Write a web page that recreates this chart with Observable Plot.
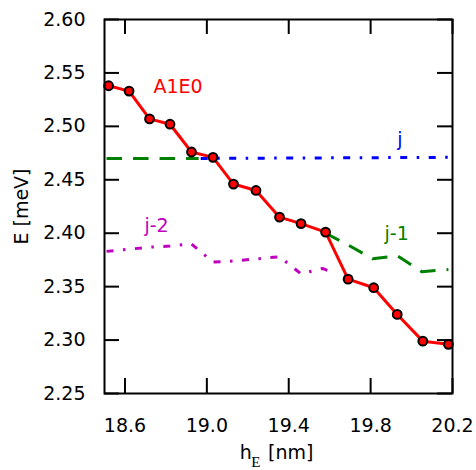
<!DOCTYPE html>
<html><head><meta charset="utf-8">
<script src="https://cdn.jsdelivr.net/npm/d3@7"></script>
<script src="https://cdn.jsdelivr.net/npm/@observablehq/plot@0.6"></script>
<style>body{margin:0;background:#fff}</style>
</head><body>
<script>
// ---- data ----
const xTicks = [18.6, 19.0, 19.4, 19.8, 20.2];
const yTicks = [2.25, 2.30, 2.35, 2.40, 2.45, 2.50, 2.55, 2.60];

// A1E0 (red, markers)
const a1e0X = [18.52, 18.62, 18.72, 18.82, 18.925, 19.03, 19.13, 19.24, 19.355, 19.46, 19.58, 19.69, 19.815, 19.93, 20.055, 20.18];
const a1e0Y = [2.538, 2.533, 2.507, 2.502, 2.476, 2.471, 2.446, 2.440, 2.415, 2.409, 2.401, 2.357, 2.349, 2.324, 2.299, 2.296];

// j (blue dash-dot)
const jX = [18.97, 20.18];
const jY = [2.470, 2.471];

// j-1 (green dashed), null = gap
const j1X = [18.51, 18.96, 19.2, 19.58, 19.69, 19.81, 19.93, 20.05, 20.18];
const j1Y = [2.470, 2.470, null, 2.400, 2.389, 2.376, 2.379, 2.364, 2.366];

// j-2 (magenta dash-dot)
const j2X = [18.51, 18.62, 18.72, 18.82, 18.925, 19.03, 19.13, 19.24, 19.355, 19.46, 19.565, 19.63];
const j2Y = [2.383, 2.385, 2.387, 2.388, 2.390, 2.373, 2.374, 2.376, 2.378, 2.362, 2.367, 2.362];

// series labels
const labelText = ["A1E0", "j", "j-1", "j-2"];
const labelX = [18.739, 19.93, 19.868, 18.695];
const labelY = [2.531, 2.4816, 2.394, 2.4007];
const labelColor = ["#ff0000", "#0000ff", "#008000", "#bf00bf"];

// ---- layout ----
const W = 476, H = 470, ML = 104, MR = 24, MT = 19, MB = 77;
const plotW = W - ML - MR, plotH = H - MT - MB, TICK = 15;

const rows = (xs, ys) => xs.map((x, i) => ({x, y: ys[i]}));
const a1e0 = rows(a1e0X, a1e0Y);
const j = rows(jX, jY);
const j1 = rows(j1X, j1Y);
const j2 = rows(j2X, j2Y);
const labels = labelText.map((t, i) => ({t, x: labelX[i], y: labelY[i], c: labelColor[i]}));

const chart = Plot.plot({
  width: W, height: H,
  marginLeft: ML, marginRight: MR, marginTop: MT, marginBottom: MB,
  style: {fontFamily: "DejaVu Sans", fontSize: "19px", background: "white", color: "black"},
  x: {domain: [18.5, 20.2]},
  y: {domain: [2.25, 2.60]},
  marks: [
    Plot.axisX({ticks: xTicks, tickFormat: d3.format(".1f"), tickSize: 0, tickPadding: 24.5, label: null, fontSize: 19}),
    Plot.axisY({ticks: yTicks, tickFormat: d3.format(".2f"), tickSize: 0, tickPadding: 19, label: null, fontSize: 19}),
    Plot.line(j1, {x: "x", y: "y", stroke: "#008000", strokeWidth: 3, strokeDasharray: "15.5,11", strokeLinecap: "butt"}),
    Plot.line(j, {x: "x", y: "y", stroke: "#0000ff", strokeWidth: 3, strokeDasharray: "7,9.5,2.5,9.5", strokeLinecap: "butt"}),
    Plot.line(j2, {x: "x", y: "y", stroke: "#bf00bf", strokeWidth: 3, strokeDasharray: "7,9.5,2.5,9.5", strokeLinecap: "butt"}),
    Plot.line(a1e0, {x: "x", y: "y", stroke: "#ff0000", strokeWidth: 3}),
    Plot.dot(a1e0, {x: "x", y: "y", r: 4.4, fill: "#ff0000", stroke: "black", strokeWidth: 2}),
    Plot.text(labels, {x: "x", y: "y", text: "t", fill: "c", textAnchor: "start", lineAnchor: "bottom", fontSize: 19}),
    Plot.text(["E [meV]"], {text: d => d, frameAnchor: "left", rotate: -90, dx: -76.5, textAnchor: "middle", lineAnchor: "bottom", fontSize: 19}),
    Plot.text(["h"], {text: d => d, frameAnchor: "bottom", textAnchor: "start", lineAnchor: "bottom", dx: -38.7, dy: 65.5, fontSize: 19}),
    Plot.text(["E"], {text: d => d, frameAnchor: "bottom", textAnchor: "start", lineAnchor: "bottom", dx: -27.3, dy: 73, fontSize: 15, fontFamily: "Liberation Serif"}),
    Plot.text(["[nm]"], {text: d => d, frameAnchor: "bottom", textAnchor: "start", lineAnchor: "bottom", dx: -10.4, dy: 65.5, fontSize: 19}),
    Plot.frame({stroke: "black", strokeWidth: 2}),
    Plot.tickX(xTicks, {x: d => d, insetTop: plotH - TICK, stroke: "black", strokeWidth: 2}),
    Plot.tickX(xTicks, {x: d => d, insetBottom: plotH - TICK, stroke: "black", strokeWidth: 2}),
    Plot.tickY(yTicks, {y: d => d, insetRight: plotW - TICK, stroke: "black", strokeWidth: 2}),
    Plot.tickY(yTicks, {y: d => d, insetLeft: plotW - TICK, stroke: "black", strokeWidth: 2})
  ]
});
document.body.appendChild(chart);
</script>
</body></html>
